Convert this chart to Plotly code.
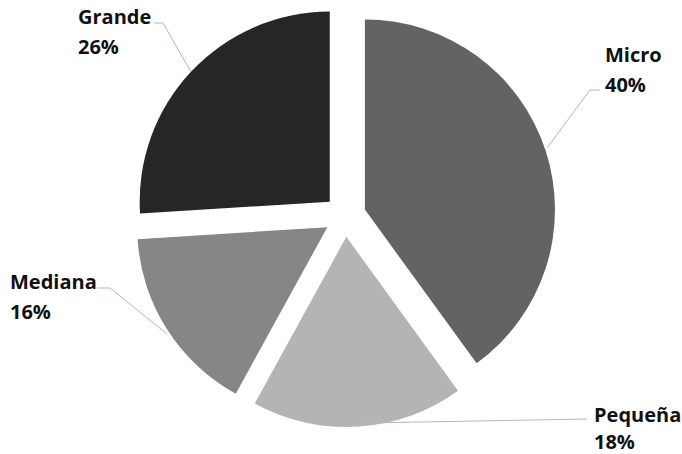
import plotly.graph_objects as go

# Company size distribution
categories = ["Micro", "Pequeña", "Mediana", "Grande"]
shares = [40, 18, 16, 26]
colors = ["#636363", "#b4b4b4", "#868686", "#262626"]

W, H = 682, 454


def px(x):
    return x / W


def py(y):
    return 1 - y / H


fig = go.Figure(
    go.Pie(
        labels=categories,
        values=shares,
        sort=False,
        direction="clockwise",
        rotation=0,
        pull=[0.11] * len(categories),
        marker=dict(colors=colors, line=dict(width=0)),
        textinfo="none",
        hoverinfo="label+percent",
        domain=dict(x=[px(8), 1], y=[py(427), py(5)]),
        showlegend=False,
    )
)

# label anchor (left x, name centre y, percent centre y) and leader line path
label_pos = {
    "Grande": (76, 16.5, 46),
    "Micro": (603, 54.5, 84.5),
    "Mediana": (8, 281, 311),
    "Pequeña": (592, 414, 441.5),
}
leader_paths = {
    "Grande": [(154, 23), (163, 23), (191, 72)],
    "Micro": [(600, 90), (590, 90), (547, 148)],
    "Mediana": [(97, 288), (110, 288), (167, 334)],
    "Pequeña": [(587, 419), (365, 423)],
}

label_font = dict(family="Open Sans", size=20, color="#111111")
annotations = []
shapes = []
for name, val in zip(categories, shares):
    x0, yn, yp = label_pos[name]
    annotations.append(dict(
        x=px(x0), y=py(yn), xref="paper", yref="paper",
        text=f"<b>{name}</b>", showarrow=False,
        xanchor="left", yanchor="middle", font=label_font,
    ))
    annotations.append(dict(
        x=px(x0), y=py(yp), xref="paper", yref="paper",
        text=f"<b>{val}%</b>", showarrow=False,
        xanchor="left", yanchor="middle", font=label_font,
    ))
    pts = leader_paths[name]
    path = "M " + " L ".join(f"{px(a):.5f},{py(b):.5f}" for a, b in pts)
    shapes.append(dict(
        type="path", path=path, xref="paper", yref="paper",
        line=dict(color="#a9b9cc", width=1),
    ))

fig.update_layout(
    width=W, height=H,
    margin=dict(l=0, r=0, t=0, b=0),
    paper_bgcolor="white", plot_bgcolor="white",
    annotations=annotations, shapes=shapes,
)

fig.write_html("out.html")
